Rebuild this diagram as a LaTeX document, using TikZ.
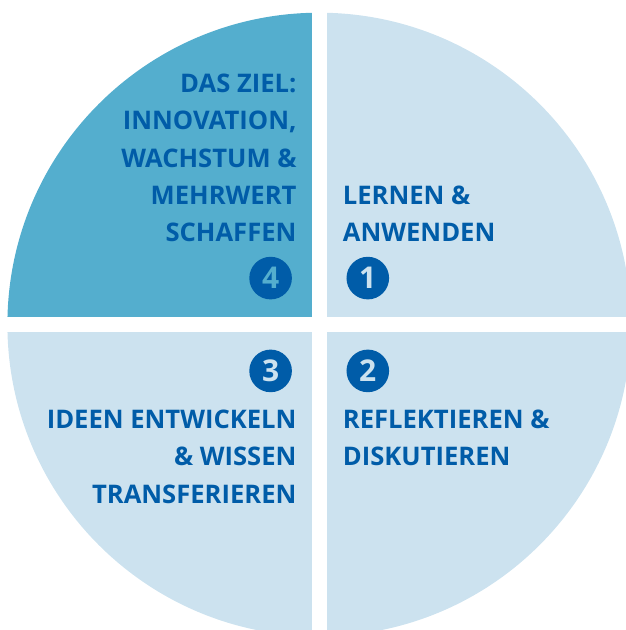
\documentclass[tikz,border=0pt]{standalone}
\usepackage{fontspec}
\setmainfont{Open Sans}
\usepackage{xcolor}
\definecolor{zielblau}{RGB}{84,174,206}
\definecolor{hellblau}{RGB}{204,226,239}
\definecolor{textblau}{RGB}{0,92,168}

\begin{document}
\begin{tikzpicture}[x=1pt,y=1pt,
    schrift/.style={font=\fontsize{25.6}{37.35}\selectfont\bfseries, text=textblau, inner sep=0pt},
    nummer/.style={circle, fill=textblau, minimum size=42.6pt, inner sep=0pt, font=\fontsize{30}{30}\selectfont\bfseries}]
    \useasboundingbox (-319.2,-305.5) rectangle (305.8,324.5);
    \begin{scope}
        \clip (0,0) circle (311.8);
        \fill[zielblau] (-7.5,7.5) rectangle (-320,320);
        \fill[hellblau] (7.5,7.5) rectangle (320,320);
        \fill[hellblau] (7.5,-7.5) rectangle (320,-320);
        \fill[hellblau] (-7.5,-7.5) rectangle (-320,-320);
    \end{scope}
    \node[nummer, text=hellblau] (n1) at (48.6,46.4) {1};
    \node[nummer, text=hellblau] (n2) at (48.6,-46.4) {2};
    \node[nummer, text=hellblau] (n3) at (-48.6,-46.4) {3};
    \node[nummer, text=zielblau] (n4) at (-48.6,46.4) {4};
    \node[schrift, align=left, anchor=base west] (lernen) at (23.5,82.8) {LERNEN \&\\ANWENDEN};
    \node[schrift, align=left, anchor=base west] (reflektieren) at (23.5,-141.1) {REFLEKTIEREN \&\\DISKUTIEREN};
    \node[schrift, align=right, anchor=base east] (ideen) at (-22.5,-178.5) {IDEEN ENTWICKELN\\\& WISSEN\\TRANSFERIEREN};
    \node[schrift, align=right, anchor=base east] (ziel) at (-22.5,82.8) {DAS ZIEL:\\INNOVATION,\\WACHSTUM \&\\MEHRWERT\\SCHAFFEN};
\end{tikzpicture}
\end{document}
